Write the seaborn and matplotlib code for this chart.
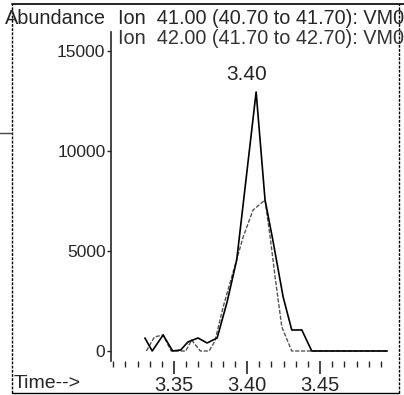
import numpy as np
import pandas as pd
import matplotlib
matplotlib.use('Agg')
import matplotlib.pyplot as plt
from matplotlib.lines import Line2D
from matplotlib.ticker import MultipleLocator
import seaborn as sns

# ion 41 trace (solid)
time_41 = [3.3300, 3.3350, 3.3425, 3.3490, 3.3545, 3.3595, 3.3664, 3.3726, 3.3795,
           3.3863, 3.3929, 3.4062, 3.4123, 3.4175, 3.4247, 3.4306, 3.4375, 3.4443, 3.4960]
abund_41 = [650, 0, 800, 0, 50, 450, 650, 400, 650,
            2450, 4550, 12950, 7550, 5600, 2700, 1050, 1050, 0, 0]

# ion 42 trace (dashed)
time_42 = [3.3310, 3.3365, 3.3425, 3.3480, 3.3580, 3.3620, 3.3680, 3.3740, 3.3780,
           3.3836, 3.3973, 3.4041, 3.4123, 3.4158, 3.4192, 3.4238, 3.4306, 3.4960]
abund_42 = [0, 700, 800, 0, 0, 550, 0, 0, 500,
            2200, 5700, 7050, 7550, 5700, 3700, 1200, 0, 0]

ion_labels = ['Ion  41.00 (40.70 to 41.70): VM0', 'Ion  42.00 (41.70 to 42.70): VM0']
x_ticks = [3.35, 3.40, 3.45]
y_ticks = [0, 5000, 10000, 15000]
peak_label = '3.40'

sns.set_style('ticks')
plt.rcParams['font.family'] = ['Liberation Sans', 'DejaVu Sans']

df41 = pd.DataFrame({'Time': time_41, 'Abundance': abund_41})
df42 = pd.DataFrame({'Time': time_42, 'Abundance': abund_42})

fig = plt.figure(figsize=(4.04, 3.95), dpi=100)
ax = fig.add_axes([0.2748, 0.0861, 0.6855, 0.833])

sns.lineplot(x='Time', y='Abundance', data=df42, ax=ax, color='#555555',
             linewidth=1, linestyle=(0, (3, 1.2)))
sns.lineplot(x='Time', y='Abundance', data=df41, ax=ax, color='black', linewidth=1.2)

ax.set_xlim(3.3068, 3.4965)
ax.set_ylim(-500, 15950)
ax.set_xticks(x_ticks)
ax.set_xticklabels(['%.2f' % t for t in x_ticks])
ax.xaxis.set_minor_locator(MultipleLocator(0.05 / 6))
ax.set_yticks(y_ticks)
ax.set_xlabel('')
ax.set_ylabel('')
for s in ['top', 'right', 'bottom']:
    ax.spines[s].set_visible(False)
ax.spines['left'].set_linewidth(1.2)
ax.tick_params(axis='x', which='major', direction='out', length=9, width=1.2,
               labelsize=14.5, pad=2)
ax.tick_params(axis='x', which='minor', direction='out', length=4, width=1)
ax.tick_params(axis='y', which='major', direction='out', length=3, width=1,
               labelsize=12.5, pad=1)

# peak label
i_peak = int(np.argmax(abund_41))
ax.annotate(peak_label, (time_41[i_peak], abund_41[i_peak]), xytext=(-10, 8),
            textcoords='offset pixels', ha='center', va='bottom', fontsize=15)

# header texts
fig.text(5 / 404, 1 - 18 / 395, 'Abundance', fontsize=14.3, va='center', ha='left')
fig.text(118 / 404, 1 - 18 / 395, ion_labels[0], fontsize=14.3, va='center', ha='left')
fig.text(118 / 404, 1 - 39 / 395, ion_labels[1], fontsize=14.3, va='center', ha='left',
         color='#333333')
fig.text(14 / 404, 1 - 383 / 395, 'Time-->', fontsize=14, va='center', ha='left')

# page frame
fig.add_artist(Line2D([12 / 404, 12 / 404], [0.005, 0.99], color='black', lw=1,
                      linestyle=(0, (2, 1))))
fig.add_artist(Line2D([12 / 404, 1.0], [0.99, 0.99], color='black', lw=1.2))
fig.add_artist(Line2D([399 / 404, 399 / 404], [0.005, 0.99], color='black', lw=1,
                      linestyle=(0, (2, 1))))
fig.add_artist(Line2D([12 / 404, 399 / 404], [0.005, 0.005], color='black', lw=1))
fig.add_artist(Line2D([0, 12 / 404], [1 - 133 / 395, 1 - 133 / 395], color='#444444', lw=1))

fig.savefig('out.png', dpi=100)
